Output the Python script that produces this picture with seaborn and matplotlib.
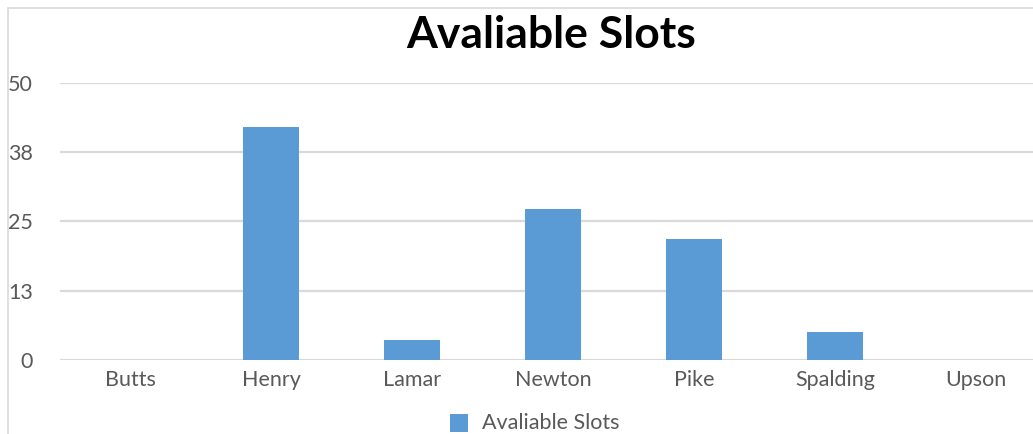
import matplotlib
matplotlib.use("Agg")
import matplotlib.pyplot as plt
import seaborn as sns
import pandas as pd
from matplotlib.patches import Rectangle

categories = ["Butts", "Henry", "Lamar", "Newton", "Pike", "Spalding", "Upson"]
values = [0, 42, 3.6, 27.2, 21.8, 5, 0]
series_name = "Avaliable Slots"
yticks = [0, 12.5, 25, 37.5, 50]
ytick_labels = ["0", "13", "25", "38", "50"]

df = pd.DataFrame({"cat": categories, "val": values, "series": series_name})

sns.set_theme(style="white")
plt.rcParams['font.family'] = ['Lato', 'DejaVu Sans']

W, H = 1033, 434
fig = plt.figure(figsize=(W / 100, H / 100), dpi=100)
left = 59.5 / W
right = 1046.5 / W
bottom = 1 - 360 / H
top = 1 - 82.7 / H
ax = fig.add_axes([left, bottom, right - left, top - bottom])

sns.barplot(data=df, x="cat", y="val", hue="series", palette=["#5b9bd5"],
            width=0.4, ax=ax, legend=False, saturation=1, linewidth=0)

ax.set_xlim(-0.5, len(categories) - 0.5)
ax.set_ylim(0, 50)
ax.set_yticks(yticks)
ax.set_yticklabels(ytick_labels)
ax.set_xlabel("")
ax.set_ylabel("")
for s in ax.spines.values():
    s.set_visible(False)
ax.grid(axis="y", color="#d9d9d9", linewidth=1.6)
ax.set_axisbelow(True)
ax.tick_params(axis="y", length=0, pad=19, labelsize=15.5, labelcolor="#595959")
ax.tick_params(axis="x", length=0, pad=7, labelsize=15.5, labelcolor="#595959")
for lbl in ax.get_yticklabels():
    lbl.set_horizontalalignment("right")

# Chart border
fig.patches.append(Rectangle((8 / W, -0.1), 1.2, (1 - 8 / H) + 0.1, transform=fig.transFigure,
                             fill=False, edgecolor="#d9d9d9", linewidth=1.2, zorder=0))

fig.text(551 / W, 1 - 35 / H, series_name, ha="center", va="center",
         fontsize=32, fontweight="bold", color="black")

# legend
fig.patches.append(Rectangle((450 / W, 1 - 432 / H), 18 / W, 18 / H, transform=fig.transFigure,
                             facecolor="#5b9bd5", edgecolor="none"))
fig.text(482 / W, 1 - 423 / H, series_name, ha="left", va="center",
         fontsize=15.5, color="#595959")

fig.savefig("out.png", dpi=100)
